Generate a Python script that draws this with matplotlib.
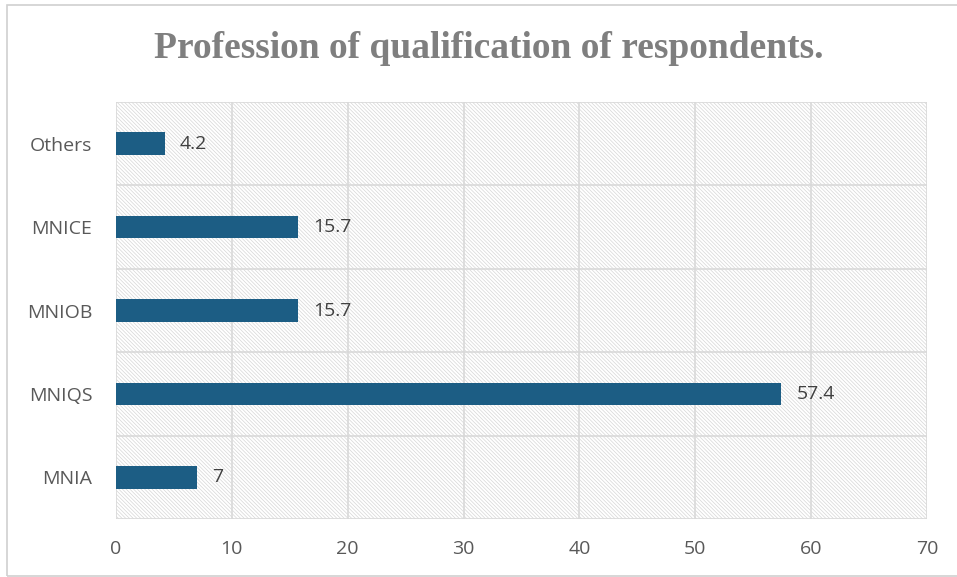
import numpy as np
import matplotlib.pyplot as plt
from matplotlib.patches import Rectangle

categories = ['MNIA', 'MNIQS', 'MNIOB', 'MNICE', 'Others']
values = [7, 57.4, 15.7, 15.7, 4.2]
xticks = [0, 10, 20, 30, 40, 50, 60, 70]
title = 'Profession of qualification of respondents.'

bar_color = '#1c5d84'
grid_color = '#d9d9d9'
text_color = '#595959'

plt.rcParams['hatch.linewidth'] = 0.5
plt.rcParams['font.family'] = ['Open Sans', 'DejaVu Sans']

fig = plt.figure(figsize=(9.57, 5.77), dpi=100)
ax = fig.add_axes([116 / 957, 1 - 519 / 577, 811 / 957, 417 / 577])

# outer chart frame
fig.patches.append(Rectangle((7 / 957, 1 / 577), 1.2, 571 / 577, transform=fig.transFigure,
                             facecolor='none', edgecolor='#d0d0d0', linewidth=1.2))

ypos = np.arange(len(categories))
ax.set_xlim(0, 70)
ax.set_ylim(-0.5, len(categories) - 0.5)

# hatched plot background
ax.add_patch(Rectangle((0, -0.5), 70, len(categories), facecolor='white',
                       edgecolor='#d6d6d6', hatch='\\' * 9, linewidth=0, zorder=0))

for x in xticks:
    ax.axvline(x, color=grid_color, linewidth=1.2, zorder=1)
for y in np.arange(-0.5, len(categories), 1.0):
    ax.axhline(y, color=grid_color, linewidth=1.2, zorder=1)

bars = ax.barh(ypos, values, height=0.27, color=bar_color, zorder=3)
for b, v in zip(bars, values):
    ax.annotate(f'{v:g}', (b.get_width(), b.get_y() + b.get_height() / 2),
                xytext=(11, 0), textcoords='offset points', va='center', ha='left',
                fontsize=14, color='#404040')

ax.set_yticks(ypos)
ax.set_yticklabels(categories)
ax.set_xticks(xticks)
ax.tick_params(axis='both', length=0, labelsize=14, colors=text_color)
ax.tick_params(axis='y', pad=17)
ax.tick_params(axis='x', pad=15)
for s in ax.spines.values():
    s.set_visible(False)

fig.text(489 / 957, 1 - 48 / 577, title, ha='center', va='center',
         fontsize=27, fontweight='bold', color='#7f7f7f', family='Liberation Serif')

fig.savefig('out.png', dpi=100)
